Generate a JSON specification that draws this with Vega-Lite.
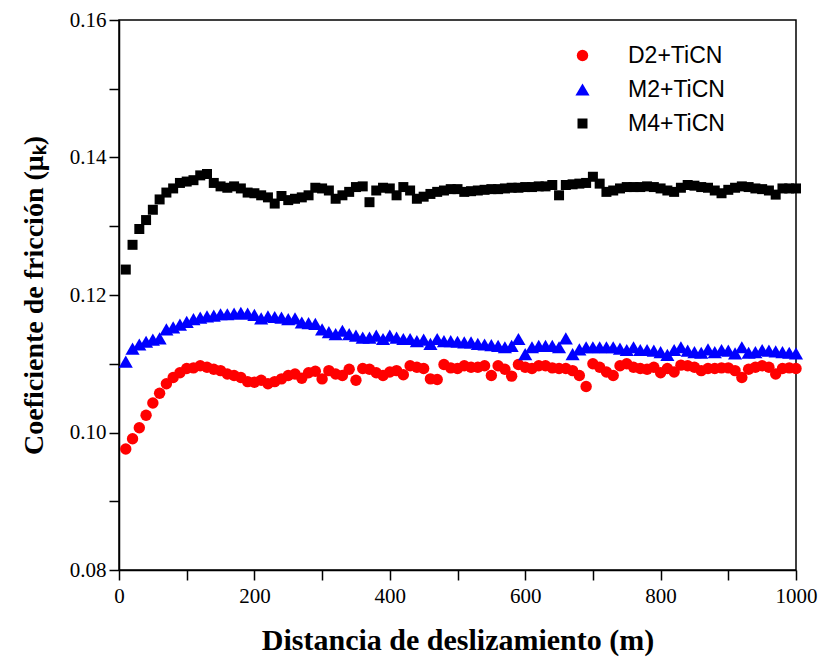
{
  "$schema": "https://vega.github.io/schema/vega-lite/v6.json",
  "width": 677,
  "height": 550,
  "autosize": {"type": "none"},
  "padding": {"left": 119, "top": 20, "right": 29, "bottom": 90},
  "background": "white",
  "config": {
    "view": {"stroke": "#000000", "strokeWidth": 1.5},
    "axis": {
      "grid": false,
      "domainColor": "#000000",
      "domainWidth": 1.5,
      "tickColor": "#000000",
      "tickWidth": 1.5,
      "labelColor": "#000000",
      "titleColor": "#000000",
      "labelFont": "Liberation Serif",
      "labelFontSize": 21,
      "titleFont": "Liberation Serif",
      "titleFontSize": 30,
      "titleFontWeight": "bold",
      "labelFlush": false,
      "labelOverlap": false
    }
  },
  "data": {
    "values": [
      {"d":10,"D2":0.0976,"M2":0.1103,"M4":0.1237},
      {"d":20,"D2":0.0991,"M2":0.1122,"M4":0.1273},
      {"d":30,"D2":0.1007,"M2":0.1128,"M4":0.1296},
      {"d":40,"D2":0.1025,"M2":0.1132,"M4":0.1309},
      {"d":50,"D2":0.1043,"M2":0.1135,"M4":0.1324},
      {"d":60,"D2":0.1057,"M2":0.1137,"M4":0.1339},
      {"d":70,"D2":0.1071,"M2":0.1150,"M4":0.1349},
      {"d":80,"D2":0.1080,"M2":0.1153,"M4":0.1355},
      {"d":90,"D2":0.1087,"M2":0.1157,"M4":0.1363},
      {"d":100,"D2":0.1093,"M2":0.1161,"M4":0.1365},
      {"d":110,"D2":0.1094,"M2":0.1165,"M4":0.1367},
      {"d":120,"D2":0.1097,"M2":0.1167,"M4":0.1374},
      {"d":130,"D2":0.1095,"M2":0.1169,"M4":0.1376},
      {"d":140,"D2":0.1092,"M2":0.1170,"M4":0.1363},
      {"d":150,"D2":0.1090,"M2":0.1172,"M4":0.1358},
      {"d":160,"D2":0.1085,"M2":0.1172,"M4":0.1356},
      {"d":170,"D2":0.1083,"M2":0.1173,"M4":0.1358},
      {"d":180,"D2":0.1080,"M2":0.1174,"M4":0.1355},
      {"d":190,"D2":0.1074,"M2":0.1173,"M4":0.1349},
      {"d":200,"D2":0.1073,"M2":0.1171,"M4":0.1348},
      {"d":210,"D2":0.1076,"M2":0.1166,"M4":0.1345},
      {"d":220,"D2":0.1071,"M2":0.1169,"M4":0.1342},
      {"d":230,"D2":0.1074,"M2":0.1168,"M4":0.1333},
      {"d":240,"D2":0.1078,"M2":0.1167,"M4":0.1344},
      {"d":250,"D2":0.1083,"M2":0.1165,"M4":0.1338},
      {"d":260,"D2":0.1085,"M2":0.1166,"M4":0.1340},
      {"d":270,"D2":0.1079,"M2":0.1160,"M4":0.1342},
      {"d":280,"D2":0.1087,"M2":0.1159,"M4":0.1345},
      {"d":290,"D2":0.1089,"M2":0.1158,"M4":0.1356},
      {"d":300,"D2":0.1078,"M2":0.1150,"M4":0.1355},
      {"d":310,"D2":0.1090,"M2":0.1146,"M4":0.1352},
      {"d":320,"D2":0.1085,"M2":0.1143,"M4":0.1340},
      {"d":330,"D2":0.1083,"M2":0.1148,"M4":0.1345},
      {"d":340,"D2":0.1092,"M2":0.1143,"M4":0.1350},
      {"d":350,"D2":0.1076,"M2":0.1141,"M4":0.1357},
      {"d":360,"D2":0.1093,"M2":0.1138,"M4":0.1358},
      {"d":370,"D2":0.1092,"M2":0.1138,"M4":0.1335},
      {"d":380,"D2":0.1087,"M2":0.1141,"M4":0.1352},
      {"d":390,"D2":0.1083,"M2":0.1136,"M4":0.1356},
      {"d":400,"D2":0.1088,"M2":0.1141,"M4":0.1355},
      {"d":410,"D2":0.1090,"M2":0.1138,"M4":0.1345},
      {"d":420,"D2":0.1084,"M2":0.1136,"M4":0.1357},
      {"d":430,"D2":0.1097,"M2":0.1136,"M4":0.1352},
      {"d":440,"D2":0.1095,"M2":0.1133,"M4":0.1340},
      {"d":450,"D2":0.1093,"M2":0.1135,"M4":0.1343},
      {"d":460,"D2":0.1078,"M2":0.1129,"M4":0.1347},
      {"d":470,"D2":0.1077,"M2":0.1136,"M4":0.1350},
      {"d":480,"D2":0.1099,"M2":0.1133,"M4":0.1352},
      {"d":490,"D2":0.1094,"M2":0.1133,"M4":0.1354},
      {"d":500,"D2":0.1093,"M2":0.1132,"M4":0.1354},
      {"d":510,"D2":0.1097,"M2":0.1131,"M4":0.1350},
      {"d":520,"D2":0.1095,"M2":0.1131,"M4":0.1351},
      {"d":530,"D2":0.1095,"M2":0.1129,"M4":0.1352},
      {"d":540,"D2":0.1097,"M2":0.1128,"M4":0.1353},
      {"d":550,"D2":0.1083,"M2":0.1127,"M4":0.1354},
      {"d":560,"D2":0.1097,"M2":0.1126,"M4":0.1354},
      {"d":570,"D2":0.1092,"M2":0.1124,"M4":0.1355},
      {"d":580,"D2":0.1082,"M2":0.1126,"M4":0.1356},
      {"d":590,"D2":0.1099,"M2":0.1136,"M4":0.1356},
      {"d":600,"D2":0.1095,"M2":0.1114,"M4":0.1357},
      {"d":610,"D2":0.1093,"M2":0.1124,"M4":0.1357},
      {"d":620,"D2":0.1097,"M2":0.1126,"M4":0.1358},
      {"d":630,"D2":0.1097,"M2":0.1126,"M4":0.1358},
      {"d":640,"D2":0.1094,"M2":0.1126,"M4":0.1360},
      {"d":650,"D2":0.1093,"M2":0.1124,"M4":0.1345},
      {"d":660,"D2":0.1093,"M2":0.1137,"M4":0.1360},
      {"d":670,"D2":0.1090,"M2":0.1114,"M4":0.1361},
      {"d":680,"D2":0.1083,"M2":0.1121,"M4":0.1362},
      {"d":690,"D2":0.1067,"M2":0.1124,"M4":0.1363},
      {"d":700,"D2":0.1100,"M2":0.1124,"M4":0.1372},
      {"d":710,"D2":0.1095,"M2":0.1124,"M4":0.1362},
      {"d":720,"D2":0.1088,"M2":0.1124,"M4":0.1350},
      {"d":730,"D2":0.1083,"M2":0.1124,"M4":0.1352},
      {"d":740,"D2":0.1097,"M2":0.1122,"M4":0.1355},
      {"d":750,"D2":0.1100,"M2":0.1120,"M4":0.1357},
      {"d":760,"D2":0.1095,"M2":0.1124,"M4":0.1357},
      {"d":770,"D2":0.1093,"M2":0.1120,"M4":0.1357},
      {"d":780,"D2":0.1092,"M2":0.1120,"M4":0.1358},
      {"d":790,"D2":0.1095,"M2":0.1119,"M4":0.1357},
      {"d":800,"D2":0.1087,"M2":0.1117,"M4":0.1355},
      {"d":810,"D2":0.1093,"M2":0.1113,"M4":0.1352},
      {"d":820,"D2":0.1088,"M2":0.1120,"M4":0.1350},
      {"d":830,"D2":0.1098,"M2":0.1124,"M4":0.1356},
      {"d":840,"D2":0.1097,"M2":0.1119,"M4":0.1360},
      {"d":850,"D2":0.1095,"M2":0.1117,"M4":0.1359},
      {"d":860,"D2":0.1090,"M2":0.1116,"M4":0.1357},
      {"d":870,"D2":0.1093,"M2":0.1121,"M4":0.1356},
      {"d":880,"D2":0.1093,"M2":0.1117,"M4":0.1352},
      {"d":890,"D2":0.1094,"M2":0.1120,"M4":0.1348},
      {"d":900,"D2":0.1094,"M2":0.1119,"M4":0.1353},
      {"d":910,"D2":0.1090,"M2":0.1115,"M4":0.1356},
      {"d":920,"D2":0.1080,"M2":0.1124,"M4":0.1358},
      {"d":930,"D2":0.1092,"M2":0.1116,"M4":0.1357},
      {"d":940,"D2":0.1095,"M2":0.1117,"M4":0.1355},
      {"d":950,"D2":0.1097,"M2":0.1120,"M4":0.1354},
      {"d":960,"D2":0.1095,"M2":0.1119,"M4":0.1352},
      {"d":970,"D2":0.1085,"M2":0.1118,"M4":0.1346},
      {"d":980,"D2":0.1093,"M2":0.1117,"M4":0.1355},
      {"d":990,"D2":0.1094,"M2":0.1116,"M4":0.1355},
      {"d":1000,"D2":0.1093,"M2":0.1115,"M4":0.1355}
    ]
  },
  "transform": [
    {"fold": ["M4", "M2", "D2"], "as": ["serie", "mu"]},
    {"lookup": "serie", "from": {"data": {"values": [
      {"serie": "D2", "name": "D2+TiCN"},
      {"serie": "M2", "name": "M2+TiCN"},
      {"serie": "M4", "name": "M4+TiCN"}
    ]}, "key": "serie", "fields": ["name"]}}
  ],
  "mark": {"type": "point", "filled": true, "opacity": 1, "strokeWidth": 0},
  "encoding": {
    "x": {
      "field": "d", "type": "quantitative",
      "scale": {"domain": [0, 1000], "nice": false, "zero": false},
      "axis": {
        "title": "Distancia de deslizamiento (m)",
        "values": [0,100,200,300,400,500,600,700,800,900,1000],
        "labelExpr": "datum.value % 200 == 0 ? datum.label : ''",
        "tickSize": 10,
        "labelPadding": 5,
        "titlePadding": 19,
        "format": "d",
        "encode": {"ticks": {"update": {"y2": {"signal": "datum.value % 200 == 0 ? -10 : -5"}}}}
      }
    },
    "y": {
      "field": "mu", "type": "quantitative",
      "scale": {"domain": [0.08, 0.16], "nice": false, "zero": false},
      "axis": {
        "title": "Coeficiente de fricción (μₖ)",
        "titleFontSize": 28,
        "values": [0.08,0.09,0.10,0.11,0.12,0.13,0.14,0.15,0.16],
        "labelExpr": "round(datum.value*100) % 2 == 0 ? format(datum.value, '.2f') : ''",
        "tickSize": 10,
        "labelPadding": 3,
        "titlePadding": 21,
        "encode": {"ticks": {"update": {"x2": {"signal": "round(datum.value*100) % 2 == 0 ? 10 : 5"}}}}
      }
    },
    "color": {
      "field": "name", "type": "nominal",
      "scale": {"domain": ["D2+TiCN", "M2+TiCN", "M4+TiCN"], "range": ["#ff0000", "#0000ff", "#000000"]},
      "legend": {
        "title": null,
        "orient": "none",
        "legendX": 452,
        "legendY": 24,
        "padding": 0,
        "symbolSize": 180,
        "symbolStrokeWidth": 0,
        "labelFont": "Liberation Sans",
        "labelFontSize": 23,
        "labelColor": "#000000",
        "labelOffset": 34,
        "rowPadding": 10
      }
    },
    "shape": {
      "field": "name", "type": "nominal",
      "scale": {"domain": ["D2+TiCN", "M2+TiCN", "M4+TiCN"], "range": ["circle", "triangle-up", "square"]}
    },
    "size": {
      "field": "name", "type": "nominal",
      "scale": {"type": "ordinal", "domain": ["D2+TiCN", "M2+TiCN", "M4+TiCN"], "range": [130, 200, 100]},
      "legend": null
    }
  }
}
